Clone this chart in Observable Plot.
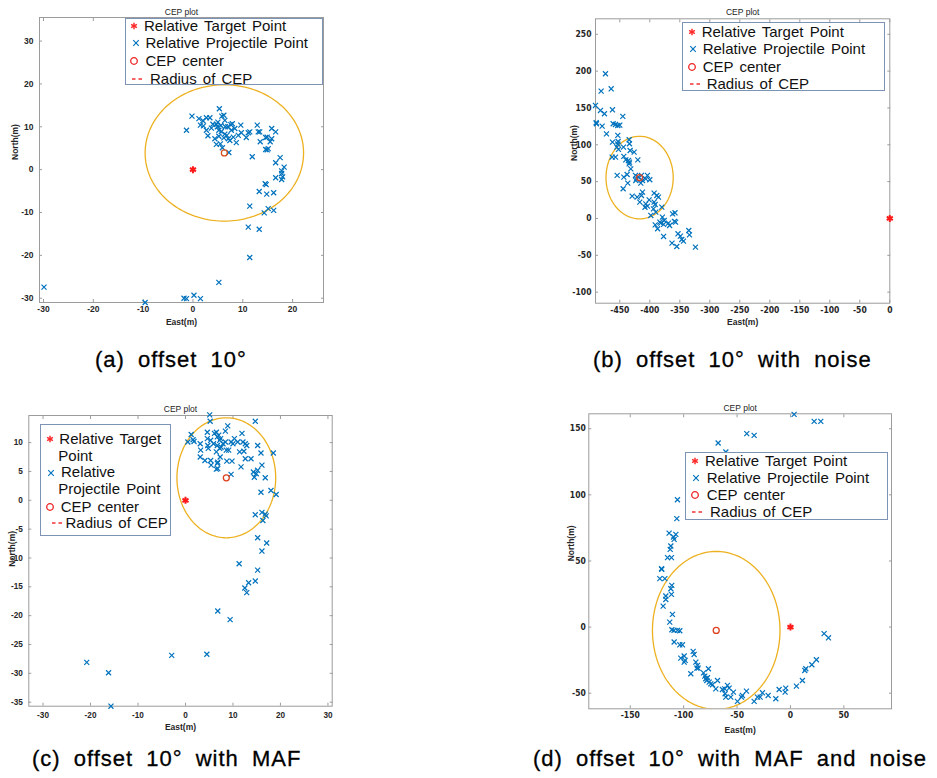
<!DOCTYPE html>
<html><head><meta charset="utf-8">
<script src="https://cdn.jsdelivr.net/npm/d3@7"></script>
<script src="https://cdn.jsdelivr.net/npm/@observablehq/plot@0.6"></script>
<style>
body{margin:0;background:#fff;}
#root{position:relative;width:937px;height:778px;overflow:hidden;background:#fff;font-family:'Liberation Sans',Arial,sans-serif;}
.panel{position:absolute;}
.panel svg{display:block;overflow:visible;max-width:none!important;}
.leg{position:absolute;box-sizing:border-box;border:1px solid #7d93b6;background:#fff;}
.lt{position:absolute;font-size:15px;line-height:18px;white-space:nowrap;color:#111;word-spacing:2px;}
.ic{position:absolute;width:14px;height:10px;}
.cap{position:absolute;font-size:22px;line-height:22px;letter-spacing:1px;word-spacing:6px;white-space:nowrap;color:#000;-webkit-text-stroke:0.3px #000;}
</style></head><body><div id="root"></div>
<script>
// ---------------- data ----------------
const target = [[0, 0]];

const projA = [[-29.9,-27.4],[-9.6,-31.0],[-1.8,-30.0],[-1.3,-30.1],[0.2,-29.3],[1.5,-30.1],[5.2,-26.3],[11.4,-20.5],[11.1,-13.4],[13.3,-13.9],[11.4,-8.5],[14.3,-10.1],[15.1,-9.1],[16.2,-9.5],[13.3,-5.1],[14.8,-5.7],[16.2,-5.4],[14.5,-3.3],[14.7,-3.5],[16.6,-1.9],[17.8,-0.9],[18.0,-1.7],[17.8,-2.3],[17.8,-0.3],[18.3,0.6],[16.6,1.6],[17.5,2.8],[11.9,3.0],[7.2,4.0],[14.6,4.7],[15.1,4.9],[14.9,4.6],[15.5,6.5],[13.5,6.5],[14.6,7.5],[14.9,7.6],[15.8,7.2],[16.6,8.8],[15.8,9.6],[13.1,8.8],[12.9,10.4],[13.4,8.8],[11.4,8.8],[11.1,8.6],[10.7,7.5],[9.1,8.0],[9.7,8.6],[9.6,10.4],[8.7,6.3],[8.1,7.6],[7.7,9.2],[8.4,9.6],[7.9,10.7],[7.6,10.5],[7.0,10.0],[6.4,11.5],[5.8,12.5],[5.3,14.2],[6.2,12.7],[5.6,10.3],[5.0,11.1],[4.7,10.6],[6.5,10.0],[6.8,8.0],[7.1,7.2],[6.4,8.3],[6.2,7.4],[7.4,6.8],[5.7,8.9],[5.2,9.2],[4.9,10.0],[4.4,7.2],[4.7,5.9],[5.5,6.0],[5.9,5.1],[5.2,7.8],[3.0,7.9],[4.0,10.6],[3.4,12.1],[2.7,12.1],[2.0,11.4],[1.5,10.4],[1.2,11.9],[2.1,10.2],[-0.2,12.5],[-1.3,9.2],[3.7,9.7],[2.7,9.2]];

const projB = [[-473.9,196.4],[-481.1,172.9],[-464.4,176.0],[-490.6,153.4],[-482.2,146.6],[-475.6,142.1],[-462.2,147.5],[-445.0,138.5],[-489.4,129.9],[-488.9,128.5],[-479.4,125.3],[-472.2,114.9],[-461.1,128.5],[-457.2,127.6],[-453.3,126.2],[-450.0,126.7],[-453.3,112.7],[-462.2,103.6],[-452.8,104.5],[-453.3,101.0],[-434.4,106.8],[-433.9,101.4],[-455.0,96.8],[-452.2,93.7],[-443.9,96.8],[-432.8,92.3],[-426.1,90.0],[-462.8,83.3],[-457.2,83.3],[-443.3,84.2],[-440.0,79.6],[-435.6,78.7],[-433.9,76.5],[-434.4,74.2],[-420.0,79.6],[-431.7,67.4],[-443.3,56.1],[-454.4,58.4],[-437.8,59.7],[-444.4,40.3],[-436.7,48.0],[-429.4,30.3],[-423.9,58.4],[-422.2,53.8],[-419.4,56.1],[-423.3,51.6],[-413.9,58.4],[-412.2,51.6],[-415.0,48.0],[-406.7,53.8],[-403.9,58.4],[-400.0,52.5],[-412.2,35.7],[-413.9,31.2],[-416.7,22.2],[-421.1,29.0],[-406.7,19.9],[-403.9,16.7],[-401.1,25.3],[-408.0,15.3],[-392.8,34.4],[-388.3,31.2],[-385.6,29.0],[-392.8,22.2],[-391.1,19.0],[-393.9,13.1],[-390.0,8.6],[-398.3,4.1],[-380.0,15.4],[-379.0,1.8],[-376.0,-2.7],[-383.3,-5.0],[-381.7,-6.3],[-391.0,-8.6],[-387.0,-14.0],[-377.0,-8.1],[-377.0,-24.4],[-369.0,-6.3],[-367.0,-9.5],[-362.0,6.3],[-358.0,7.7],[-359.0,-4.0],[-357.0,-5.0],[-363.0,-33.5],[-355.0,-38.0],[-353.0,-20.8],[-349.0,-24.0],[-346.7,-28.5],[-343.9,-30.8],[-335.0,-16.3],[-333.9,-22.2],[-323.9,-38.9]];

const projC = [[5.1,14.8],[5.2,13.7],[14.7,13.7],[1.2,11.4],[0.5,10.1],[1.8,10.2],[3.1,9.8],[3.2,8.7],[3.1,7.5],[4.1,6.9],[4.7,9.5],[4.8,9.0],[4.6,11.8],[4.6,10.7],[5.3,10.4],[5.3,6.9],[5.4,6.1],[5.9,9.8],[6.1,11.6],[6.5,11.8],[6.7,11.0],[7.0,11.3],[7.2,10.4],[7.4,10.7],[8.4,12.0],[8.9,12.9],[8.4,10.1],[7.9,9.8],[7.5,9.2],[6.7,9.5],[7.2,9.0],[6.5,8.4],[7.3,7.5],[6.8,6.6],[6.7,6.4],[6.5,5.4],[6.8,5.5],[8.6,8.7],[9.1,8.7],[8.7,6.8],[9.8,6.8],[9.6,10.1],[10.0,9.8],[10.3,10.7],[11.0,10.1],[11.9,11.6],[12.1,10.1],[12.6,9.8],[12.9,9.5],[11.4,8.4],[12.3,8.5],[12.6,7.2],[11.7,5.8],[13.8,7.2],[9.6,4.5],[15.2,9.5],[15.9,8.2],[18.5,8.2],[16.1,6.1],[15.2,5.2],[14.9,4.6],[14.3,4.9],[14.5,4.0],[16.8,3.9],[15.9,1.4],[18.0,1.7],[19.1,1.0],[14.7,-2.5],[16.1,-2.1],[16.8,-2.4],[17.0,-2.7],[16.3,-3.5],[15.2,-6.5],[17.1,-7.4],[16.1,-8.8],[11.3,-11.0],[15.2,-12.1],[14.7,-14.0],[13.3,-14.3],[12.5,-15.2],[12.9,-16.0],[6.8,-19.2],[9.4,-20.7],[-2.9,-26.9],[4.5,-26.7],[-20.8,-28.1],[-16.2,-29.9],[-15.7,-35.7],[1.6,10.5]];

const projD = [[3.4,160.9],[22.2,155.6],[28.4,155.6],[-40.9,146.3],[-34.0,145.0],[-67.7,139.2],[-60.5,132.4],[-105.8,96.3],[-106.4,82.0],[-113.6,71.1],[-107.3,70.1],[-109.5,68.1],[-108.9,66.3],[-112.0,61.3],[-112.6,58.8],[-115.1,52.5],[-111.4,52.5],[-120.7,44.1],[-120.5,43.6],[-122.3,36.6],[-117.6,36.6],[-111.1,31.5],[-112.0,29.0],[-111.4,24.7],[-116.7,23.5],[-116.7,20.9],[-119.2,15.9],[-110.5,9.6],[-113.0,3.8],[-111.0,-2.0],[-109.0,-2.5],[-105.8,-2.5],[-103.6,-2.8],[-108.9,-11.3],[-103.6,-13.4],[-101.1,-13.4],[-102.7,-23.5],[-99.5,-21.9],[-98.6,-25.2],[-99.5,-26.5],[-93.3,-35.3],[-91.1,-18.4],[-90.2,-20.7],[-88.6,-26.5],[-87.0,-29.0],[-87.7,-31.0],[-86.4,-31.0],[-81.4,-34.6],[-80.2,-37.1],[-79.3,-39.1],[-77.7,-38.3],[-76.8,-31.5],[-78.3,-40.4],[-76.1,-41.6],[-74.6,-42.9],[-73.0,-43.6],[-69.9,-46.7],[-68.3,-40.4],[-63.7,-47.2],[-61.5,-46.7],[-59.0,-44.1],[-57.4,-46.2],[-61.2,-50.4],[-60.5,-53.0],[-55.9,-53.0],[-53.4,-49.2],[-49.6,-56.2],[-45.9,-53.0],[-45.0,-51.7],[-41.2,-48.4],[-34.0,-56.2],[-30.9,-53.0],[-28.4,-53.0],[-26.2,-49.7],[-20.9,-51.7],[-13.7,-54.2],[-10.6,-47.2],[-4.4,-46.2],[-5.0,-49.2],[5.6,-44.6],[11.2,-40.4],[13.4,-32.8],[14.4,-31.5],[20.0,-28.5],[24.3,-24.7],[31.5,-5.0],[35.6,-8.1]];

const cepCenterA = [6.3, 3.9],   cepRadiusA = 15.9;
const cepCenterB = [-417, 55.5], cepRadiusB = 56;
const cepCenterC = [8.6, 3.9],   cepRadiusC = 10.4;
const cepCenterD = [-69.5, -2.5], cepRadiusD = 59.7;

const xTicksA = [-30, -20, -10, 0, 10, 20];
const yTicksA = [-30, -20, -10, 0, 10, 20, 30];
const xTicksB = [-450, -400, -350, -300, -250, -200, -150, -100, -50, 0];
const yTicksB = [-100, -50, 0, 50, 100, 150, 200, 250];
const xTicksC = [-30, -20, -10, 0, 10, 20, 30];
const yTicksC = [-35, -30, -25, -20, -15, -10, -5, 0, 5, 10];
const xTicksD = [-150, -100, -50, 0, 50];
const yTicksD = [-50, 0, 50, 100, 150];

const titleText = "CEP plot";
const xLabel = "East(m)";
const yLabel = "North(m)";
const legendLabels = ["Relative Target Point", "Relative Projectile Point", "CEP center", "Radius of CEP"];
const captions = ["(a) offset 10°", "(b) offset 10° with noise", "(c) offset 10° with MAF", "(d) offset 10° with MAF and noise"];

// ---------------- drawing ----------------
const root = document.getElementById("root");
const GREY = "#9c9c9c";

function panel(p) {
  const fmt = d => String(d);
  const tstyle = {fontWeight: "bold", fill: "#262626", fontFamily: p.tickFont, fontSize: p.tickFontSize};
  const circle = d3.range(0, 361, 2).map(a => [
    p.center[0] + p.radius * Math.cos(a * Math.PI / 180),
    p.center[1] + p.radius * Math.sin(a * Math.PI / 180)]);
  const chart = Plot.plot({
    width: p.width, height: p.height,
    marginLeft: p.m[0], marginRight: p.m[1], marginTop: p.m[2], marginBottom: p.m[3],
    x: {domain: p.xDomain}, y: {domain: p.yDomain},
    style: {fontFamily: "'Liberation Sans', Arial, sans-serif", fontSize: "8.5px", color: "#262626", background: "transparent", overflow: "visible"},
    marks: [
      Plot.frame({stroke: GREY}),
      Plot.axisX(p.xTicks, {anchor: "bottom", tickSize: 0, tickPadding: p.padX, tickFormat: fmt, label: null, ...tstyle}),
      Plot.axisX(p.xTicks, {anchor: "bottom", tickSize: -3, tickFormat: () => "", label: null, stroke: GREY}),
      Plot.axisX(p.xTicks, {anchor: "top", tickSize: -3, tickFormat: () => "", label: null, stroke: GREY}),
      Plot.axisY(p.yTicks, {anchor: "left", tickSize: 0, tickPadding: p.padY, tickFormat: fmt, label: null, ...tstyle}),
      Plot.axisY(p.yTicks, {anchor: "left", tickSize: -3, tickFormat: () => "", label: null, stroke: GREY}),
      Plot.axisY(p.yTicks, {anchor: "right", tickSize: -3, tickFormat: () => "", label: null, stroke: GREY}),
      Plot.line(circle, {x: d => d[0], y: d => d[1], stroke: "#EDB120", strokeWidth: 1.3, clip: true}),
      Plot.dot(p.proj, {x: d => d[0], y: d => d[1], symbol: "times", r: 2.4, stroke: "#0072BD", strokeWidth: 1.2}),
      Plot.dot([p.center], {x: d => d[0], y: d => d[1], symbol: "circle", r: 3, stroke: p.centerColor, fill: "none", strokeWidth: 1.3}),
      Plot.dot(target, {x: d => d[0], y: d => d[1], symbol: "asterisk", r: 3.3, stroke: "#ff1a1a", strokeWidth: 2}),
      Plot.text([titleText], {frameAnchor: "top", lineAnchor: "middle", dy: p.titleDy, text: d => d, fontSize: 8.5, fill: "#222"}),
      Plot.text([xLabel], {frameAnchor: "bottom", lineAnchor: "middle", dy: p.xLabelDy, text: d => d, fontSize: 8.5, fontWeight: "bold", fill: "#262626"}),
      Plot.text([yLabel], {frameAnchor: "left", lineAnchor: "middle", dx: p.yLabelDx, dy: p.yLabelDy || 0, rotate: -90, text: d => d, fontSize: 8.5, fontWeight: "bold", fill: "#262626"})
    ]
  });
  const wrap = document.createElement("div");
  wrap.className = "panel";
  wrap.style.left = p.left + "px";
  wrap.style.top = p.top + "px";
  wrap.appendChild(chart);
  root.appendChild(wrap);
}

const WIDE = "'Liberation Sans', Arial, sans-serif";
const NARROW = "'Liberation Sans Narrow', 'DejaVu Sans Condensed', 'Liberation Sans', sans-serif";

panel({left: 0, top: 0, width: 340, height: 335, m: [39, 17, 17, 33],
  xDomain: [-30.8, 26.2], yDomain: [-31, 35.5], xTicks: xTicksA, yTicks: yTicksA,
  proj: projA, center: cepCenterA, radius: cepRadiusA, centerColor: "#d9531e",
  tickFont: WIDE, tickFontSize: 8.5, padX: 3.5, padY: 6, titleDy: -5.5, xLabelDy: 20, yLabelDx: -24});
panel({left: 480, top: 0, width: 457, height: 335, m: [115, 47.7, 18.3, 32.3],
  xDomain: [-490.5, 0], yDomain: [-115, 271], xTicks: xTicksB, yTicks: yTicksB,
  proj: projB, center: cepCenterB, radius: cepRadiusB, centerColor: "#e0401f",
  tickFont: NARROW, tickFontSize: 8.5, padX: 4, padY: 4, titleDy: -7, xLabelDy: 19.5, yLabelDx: -21});
panel({left: 0, top: 395, width: 340, height: 345, m: [28.3, 8.3, 20, 34.3],
  xDomain: [-33.0, 30.9], yDomain: [-35.7, 14.7], xTicks: xTicksC, yTicks: yTicksC,
  proj: projC, center: cepCenterC, radius: cepRadiusC, centerColor: "#e0401f",
  tickFont: WIDE, tickFontSize: 8.2, padX: 6, padY: 6, titleDy: -6.5, xLabelDy: 21, yLabelDx: -17, yLabelDy: 6});
panel({left: 480, top: 395, width: 457, height: 345, m: [108.3, 46, 18.3, 31.7],
  xDomain: [-188.8, 94.6], yDomain: [-61.8, 161.3], xTicks: xTicksD, yTicks: yTicksD,
  proj: projD, center: cepCenterD, radius: cepRadiusD, centerColor: "#e0401f",
  tickFont: NARROW, tickFontSize: 8.5, padX: 3.5, padY: 3, titleDy: -6, xLabelDy: 21.5, yLabelDx: -17.5});

// ---------------- legends ----------------
function icon(type, cx, cy) {
  const ns = "http://www.w3.org/2000/svg";
  const s = document.createElementNS(ns, "svg");
  s.setAttribute("class", "ic");
  s.setAttribute("width", 14); s.setAttribute("height", 10);
  s.setAttribute("viewBox", "-7 -5 14 10");
  s.style.left = (cx - 7) + "px"; s.style.top = (cy - 5) + "px";
  let inner = "";
  if (type === "star") inner = '<g stroke="#ff2a2a" stroke-width="1.5"><line x1="0" y1="-3.3" x2="0" y2="3.3"/><line x1="-2.9" y1="-1.65" x2="2.9" y2="1.65"/><line x1="-2.9" y1="1.65" x2="2.9" y2="-1.65"/></g>';
  if (type === "times") inner = '<g stroke="#0072BD" stroke-width="1.1"><line x1="-2.8" y1="-2.8" x2="2.8" y2="2.8"/><line x1="-2.8" y1="2.8" x2="2.8" y2="-2.8"/></g>';
  if (type === "circle") inner = '<circle r="3.3" fill="none" stroke="#ee2222" stroke-width="1.3"/>';
  if (type === "dash") inner = '<g stroke="#ee2222" stroke-width="1.4"><line x1="-5" y1="0" x2="-1.5" y2="0"/><line x1="1.5" y1="0" x2="5" y2="0"/></g>';
  s.innerHTML = inner;
  root.appendChild(s);
}
function ltext(str, x, y) {
  const d = document.createElement("div");
  d.className = "lt";
  d.textContent = str;
  d.style.left = x + "px"; d.style.top = (y - 9) + "px";
  root.appendChild(d);
}
function legend(box, items) {
  const b = document.createElement("div");
  b.className = "leg";
  b.style.left = box[0] + "px"; b.style.top = box[1] + "px";
  b.style.width = box[2] + "px"; b.style.height = box[3] + "px";
  root.appendChild(b);
  for (const it of items) {
    icon(it.icon, it.ix, it.iy);
    for (const l of it.lines) ltext(l[0], l[1], l[2]);
  }
}
const icons = ["star", "times", "circle", "dash"];

legend([125, 18, 198, 67], [
  {icon: icons[0], ix: 134, iy: 25.7, lines: [[legendLabels[0], 144, 25.7]]},
  {icon: icons[1], ix: 135.5, iy: 43.3, lines: [[legendLabels[1], 145.5, 43.3]]},
  {icon: icons[2], ix: 134, iy: 61, lines: [[legendLabels[2], 145.5, 61]]},
  {icon: icons[3], ix: 137, iy: 79, lines: [[legendLabels[3], 150, 79]]}
]);
legend([681.7, 22.3, 203.3, 68.7], [
  {icon: icons[0], ix: 691.7, iy: 32.3, lines: [[legendLabels[0], 701.7, 32.3]]},
  {icon: icons[1], ix: 692.5, iy: 49.3, lines: [[legendLabels[1], 702.7, 49.3]]},
  {icon: icons[2], ix: 691.7, iy: 66.7, lines: [[legendLabels[2], 702.7, 66.7]]},
  {icon: icons[3], ix: 694.5, iy: 84, lines: [[legendLabels[3], 706.7, 84]]}
]);
legend([40, 424.3, 130.7, 111.4], [
  {icon: icons[0], ix: 50, iy: 439, lines: [["Relative Target", 59.3, 439], ["Point", 58.3, 455.7]]},
  {icon: icons[1], ix: 51, iy: 473, lines: [["Relative", 61, 472.3], ["Projectile Point", 58.3, 489.3]]},
  {icon: icons[2], ix: 50, iy: 506.7, lines: [[legendLabels[2], 60.7, 506.7]]},
  {icon: icons[3], ix: 56.5, iy: 523.3, lines: [[legendLabels[3], 65.5, 523.3]]}
]);
legend([685, 451.7, 203.3, 68.6], [
  {icon: icons[0], ix: 695, iy: 460.7, lines: [[legendLabels[0], 705, 460.7]]},
  {icon: icons[1], ix: 695.5, iy: 477.7, lines: [[legendLabels[1], 706.7, 477.7]]},
  {icon: icons[2], ix: 695, iy: 495, lines: [[legendLabels[2], 706.7, 495]]},
  {icon: icons[3], ix: 697, iy: 512.3, lines: [[legendLabels[3], 710, 512.3]]}
]);

// ---------------- captions ----------------
const capPos = [[95, 349.4], [593, 349.4], [32, 748.4], [533, 748.4]];
captions.forEach((c, i) => {
  const d = document.createElement("div");
  d.className = "cap";
  d.textContent = c;
  d.style.left = capPos[i][0] + "px"; d.style.top = capPos[i][1] + "px";
  root.appendChild(d);
});
</script></body></html>
